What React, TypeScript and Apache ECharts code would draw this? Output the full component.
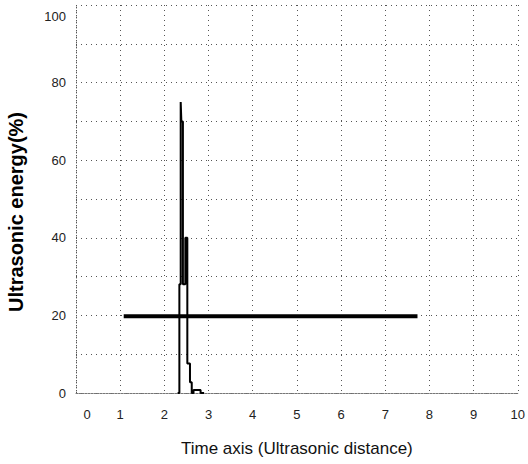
import React, { useEffect, useRef } from "react";
import * as echarts from "echarts";

// Pulse trace (time axis, energy %)
const pulseX = [2.3, 2.34, 2.34, 2.37, 2.37, 2.385, 2.385, 2.42, 2.42, 2.475, 2.475, 2.52, 2.52, 2.58, 2.58, 2.62, 2.62, 2.66, 2.66, 2.82, 2.82, 2.9];
const pulseY = [0, 0, 28, 28, 75, 75, 70, 70, 28, 28, 40, 40, 7.6, 7.6, 2.8, 2.8, 0, 0, 0.8, 0.8, 0, 0];

// Threshold level line
const levelX = [1.08, 7.73];
const levelY = [19.8, 19.8];

const xAxisTitle = "Time axis (Ultrasonic distance)";
const yAxisTitle = "Ultrasonic energy(%)";

export default function App() {
  const ref = useRef<HTMLDivElement>(null);
  useEffect(() => {
    if (!ref.current) return;
    const chart = echarts.init(ref.current, null, { renderer: "svg" });
    const dotted = { type: [1, 4] as number[], color: "#555", width: 1 };
    chart.setOption({
      animation: false,
      backgroundColor: "#fff",
      grid: { left: 76, right: 6, top: 5, bottom: 71 },
      graphic: [
        {
          type: "text",
          x: 16,
          y: 212,
          rotation: Math.PI / 2,
          style: {
            text: yAxisTitle,
            fontFamily: "Liberation Sans",
            fontSize: 20,
            fontWeight: "bold",
            fill: "#000",
            align: "center",
            verticalAlign: "middle",
          },
        },
      ],
      xAxis: {
        type: "value",
        min: 0,
        max: 10,
        interval: 1,
        name: xAxisTitle,
        nameLocation: "middle",
        nameGap: 47,
        nameTextStyle: { fontFamily: "Liberation Sans", fontSize: 17, color: "#111" },
        axisLine: { show: true, lineStyle: { type: [2, 1], color: "#777", width: 1 } },
        axisTick: { show: false },
        splitLine: { show: true, lineStyle: dotted },
        axisLabel: {
          margin: 15,
          fontFamily: "Liberation Sans",
          fontSize: 13,
          color: "#222",
          formatter: (v: number) => (v === 0 ? "{z|0}" : String(v)),
          rich: { z: { padding: [0, 0, 0, 22], fontFamily: "Liberation Sans", fontSize: 13, color: "#222" } },
        },
      },
      yAxis: {
        type: "value",
        min: 0,
        max: 100,
        interval: 10,
        axisLine: { show: true, lineStyle: dotted },
        axisTick: { show: false },
        splitLine: { show: true, lineStyle: dotted },
        axisLabel: {
          margin: 10,
          fontFamily: "Liberation Sans",
          fontSize: 13,
          color: "#222",
          formatter: (v: number) => (v === 100 ? "{t|100}" : v % 20 === 0 ? String(v) : ""),
          rich: { t: { padding: [22, 0, 0, 0], fontFamily: "Liberation Sans", fontSize: 13, color: "#222" } },
        },
      },
      series: [
        {
          type: "line",
          data: levelX.map((x, i) => [x, levelY[i]]),
          showSymbol: false,
          lineStyle: { color: "#000", width: 4 },
          z: 3,
        },
        {
          type: "line",
          data: pulseX.map((x, i) => [x, pulseY[i]]),
          showSymbol: false,
          lineStyle: { color: "#000", width: 2 },
          z: 4,
        },
      ],
    });
    return () => chart.dispose();
  }, []);
  return (
    <div
      ref={ref}
      style={{ position: "fixed", left: 0, top: 0, width: 528, height: 464, background: "#fff" }}
    />
  );
}
